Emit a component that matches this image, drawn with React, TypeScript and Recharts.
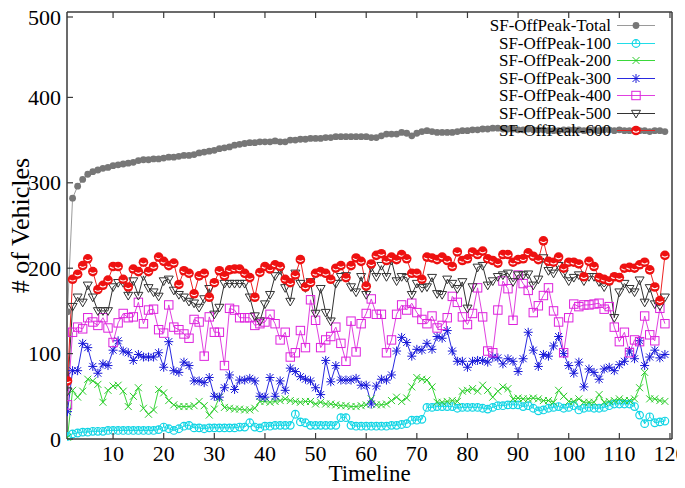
import React from "react";
import { LineChart, Line, XAxis, YAxis, Label } from "recharts";

const offPeakTotal = [
  149, 282, 296, 304, 310, 313, 315, 317, 318, 320,
  321, 322, 323, 324, 326, 327, 327, 328, 328, 329,
  330, 330, 331, 332, 332, 333, 335, 336, 337, 338,
  340, 341, 342, 344, 345, 346, 347, 347, 348, 348,
  348, 349, 348, 348, 350, 350, 351, 351, 352, 352,
  352, 353, 353, 354, 354, 354, 354, 354, 354, 354,
  353, 353, 355, 357, 357, 357, 359, 358, 355, 358,
  360, 361, 360, 359, 359, 359, 359, 360, 361, 361,
  362, 362, 363, 363, 364, 364, 363, 363, 363, 362,
  362, 363, 362, 362, 362, 361, 361, 361, 362, 362,
  362, 362, 361, 362, 362, 361, 362, 362, 361, 362,
  361, 361, 361, 361, 361, 360, 361, 361, 360,
];

const offPeak100 = [
  3, 6, 7, 8, 8, 9, 9, 9, 10, 10,
  10, 10, 10, 10, 10, 10, 10, 10, 11, 14,
  12, 10, 12, 15, 16, 13, 13, 12, 13, 13,
  13, 13, 13, 13, 14, 14, 19, 14, 13, 15,
  15, 16, 16, 16, 16, 29, 20, 19, 16, 16,
  16, 16, 16, 16, 25, 25, 16, 15, 15, 15,
  15, 15, 15, 15, 16, 16, 17, 18, 22, 22,
  23, 37, 37, 38, 38, 38, 38, 36, 37, 37,
  37, 37, 36, 35, 37, 39, 39, 40, 40, 40,
  38, 39, 36, 33, 34, 36, 37, 38, 36, 37,
  39, 34, 36, 37, 36, 36, 37, 39, 41, 41,
  41, 41, 38, 28, 18, 26, 19, 20, 21,
];

const offPeak200 = [
  2, 57, 49, 56, 70, 68, 64, 43, 57, 62,
  63, 56, 38, 50, 60, 36, 29, 34, 58, 54,
  45, 40, 38, 38, 38, 39, 44, 39, 28, 35,
  49, 37, 36, 35, 35, 34, 34, 36, 44, 44,
  43, 44, 45, 47, 45, 44, 43, 44, 44, 41,
  43, 41, 41, 40, 39, 39, 38, 38, 39, 40,
  47, 40, 40, 41, 45, 49, 44, 48, 61, 72,
  70, 69, 61, 43, 43, 44, 45, 44, 56, 57,
  59, 56, 63, 57, 49, 56, 61, 59, 47, 48,
  47, 47, 48, 47, 45, 45, 43, 57, 50, 44,
  44, 47, 43, 43, 43, 52, 43, 44, 45, 47,
  45, 45, 47, 60, 78, 47, 47, 45, 44,
];

const offPeak300 = [
  32, 80, 80, 112, 107, 85, 77, 88, 86, 104,
  115, 103, 101, 92, 99, 96, 96, 96, 101, 84,
  114, 80, 78, 90, 86, 68, 68, 66, 72, 50,
  49, 60, 75, 58, 69, 69, 71, 68, 50, 49,
  72, 50, 68, 57, 83, 79, 73, 70, 68, 60,
  52, 92, 67, 86, 69, 69, 69, 71, 63, 63,
  41, 62, 70, 69, 75, 103, 119, 113, 97, 105,
  104, 112, 105, 120, 118, 127, 103, 91, 91, 84,
  91, 92, 92, 90, 96, 95, 88, 94, 91, 79,
  94, 125, 104, 85, 99, 97, 109, 120, 100, 86,
  77, 90, 61, 82, 78, 70, 82, 84, 80, 87,
  91, 103, 94, 115, 86, 96, 104, 95, 99,
];

const offPeak400 = [
  40, 125, 131, 129, 142, 137, 133, 142, 130, 113,
  136, 147, 142, 143, 160, 135, 151, 152, 128, 124,
  157, 131, 128, 123, 118, 140, 137, 97, 143, 125,
  125, 86, 153, 151, 142, 142, 142, 133, 135, 137,
  146, 135, 116, 125, 96, 101, 127, 107, 163, 139,
  107, 116, 120, 131, 112, 91, 138, 102, 135, 147,
  164, 146, 146, 101, 116, 146, 157, 151, 159, 148,
  140, 135, 144, 130, 133, 142, 167, 160, 143, 134,
  147, 177, 143, 103, 101, 151, 185, 176, 139, 192,
  182, 174, 148, 156, 168, 177, 150, 137, 101, 142,
  158, 155, 157, 157, 158, 159, 152, 155, 131, 114,
  125, 101, 116, 114, 144, 122, 115, 153, 135,
];

const offPeak500 = [
  56, 155, 166, 160, 180, 166, 150, 150, 150, 178,
  183, 183, 168, 185, 168, 191, 177, 172, 167, 185,
  187, 174, 169, 166, 161, 159, 154, 164, 176, 146,
  154, 182, 182, 182, 182, 182, 166, 144, 138, 158,
  169, 191, 198, 177, 161, 194, 182, 177, 184, 147,
  176, 148, 138, 182, 190, 191, 178, 172, 190, 169,
  201, 190, 203, 190, 209, 185, 190, 189, 169, 182,
  177, 178, 189, 170, 169, 187, 182, 176, 184, 153,
  178, 201, 203, 180, 185, 190, 192, 194, 184, 192,
  192, 193, 180, 187, 212, 197, 194, 203, 194, 185,
  189, 192, 185, 190, 190, 184, 178, 185, 142, 172,
  182, 176, 172, 186, 160, 177, 158, 156, 166,
];

const offPeak600 = [
  68, 187, 193, 203, 211, 196, 175, 180, 186, 202,
  202, 187, 178, 199, 196, 207, 196, 202, 213, 208,
  203, 206, 181, 197, 194, 170, 191, 194, 166, 183,
  197, 191, 198, 199, 199, 194, 189, 166, 195, 202,
  199, 204, 202, 187, 183, 192, 210, 178, 183, 194,
  196, 194, 187, 200, 203, 189, 203, 212, 208, 179,
  205, 215, 217, 209, 213, 210, 216, 211, 194, 194,
  187, 213, 212, 210, 213, 209, 202, 219, 209, 211,
  219, 216, 220, 211, 209, 206, 216, 216, 207, 210,
  211, 218, 214, 210, 232, 208, 207, 213, 200, 207,
  207, 205, 190, 208, 202, 189, 187, 185, 190, 189,
  200, 201, 200, 204, 207, 198, 178, 162, 215,
];

const xTicks = [10, 20, 30, 40, 50, 60, 70, 80, 90, 100, 110, 120];
const yTicks = [0, 100, 200, 300, 400, 500];

const SERIF = "'Liberation Serif', 'Times New Roman', Times, serif";
const AXIS = "#3a3a3a";

type Shape = "dot" | "ring" | "cross" | "star" | "square" | "tri" | "ball";

const series: { key: string; name: string; color: string; marker: string; shape: Shape; values: number[] }[] = [
  { key: "total", name: "SF-OffPeak-Total", color: "#9a9a9a", marker: "#777777", shape: "dot", values: offPeakTotal },
  { key: "s100", name: "SF-OffPeak-100", color: "#20dde8", marker: "#12d5e5", shape: "ring", values: offPeak100 },
  { key: "s200", name: "SF-OffPeak-200", color: "#3ad83a", marker: "#2ccc2c", shape: "cross", values: offPeak200 },
  { key: "s300", name: "SF-OffPeak-300", color: "#2a2ae0", marker: "#1818d8", shape: "star", values: offPeak300 },
  { key: "s400", name: "SF-OffPeak-400", color: "#e040e0", marker: "#dd22dd", shape: "square", values: offPeak400 },
  { key: "s500", name: "SF-OffPeak-500", color: "#333333", marker: "#333333", shape: "tri", values: offPeak500 },
  { key: "s600", name: "SF-OffPeak-600", color: "#ee2222", marker: "#ee1111", shape: "ball", values: offPeak600 },
];

const timeline = offPeakTotal.map((_, i) => i + 1);

const data = timeline.map((t, i) => {
  const row: Record<string, number> = { t };
  series.forEach((s) => {
    row[s.key] = s.values[i];
  });
  return row;
});

const Marker = ({ shape, color, cx, cy }: { shape: Shape; color: string; cx: number; cy: number }) => {
  switch (shape) {
    case "dot":
      return <circle cx={cx} cy={cy} r={3.4} fill={color} />;
    case "ring":
      return (
        <g fill="none" stroke={color} strokeWidth={1.2}>
          <circle cx={cx} cy={cy} r={3.8} />
          <line x1={cx} y1={cy - 3.8} x2={cx} y2={cy} />
        </g>
      );
    case "cross":
      return (
        <g stroke={color} strokeWidth={1}>
          <line x1={cx - 3.5} y1={cy - 3.5} x2={cx + 3.5} y2={cy + 3.5} />
          <line x1={cx - 3.5} y1={cy + 3.5} x2={cx + 3.5} y2={cy - 3.5} />
        </g>
      );
    case "star":
      return (
        <g stroke={color} strokeWidth={1}>
          <line x1={cx - 3.5} y1={cy - 3.5} x2={cx + 3.5} y2={cy + 3.5} />
          <line x1={cx - 3.5} y1={cy + 3.5} x2={cx + 3.5} y2={cy - 3.5} />
          <line x1={cx - 4.5} y1={cy} x2={cx + 4.5} y2={cy} />
          <line x1={cx} y1={cy - 4.5} x2={cx} y2={cy + 4.5} />
        </g>
      );
    case "square":
      return <rect x={cx - 4.2} y={cy - 4.2} width={8.4} height={8.4} fill="none" stroke={color} strokeWidth={1} />;
    case "tri":
      return (
        <polygon
          points={`${cx - 4.5},${cy - 3.2} ${cx + 4.5},${cy - 3.2} ${cx},${cy + 4.5}`}
          fill="none"
          stroke={color}
          strokeWidth={1}
        />
      );
    case "ball":
      return (
        <g>
          <circle cx={cx} cy={cy} r={4.8} fill={color} />
          <path d={`M${cx - 3},${cy + 0.5} Q${cx},${cy + 3} ${cx + 3},${cy + 0.5}`} fill="none" stroke="#ffffff" strokeWidth={1.1} />
        </g>
      );
  }
  return null;
};

const makeDot = (shape: Shape, color: string, key: string) => (props: any) => (
  <Marker key={`${key}-${props.index}`} shape={shape} color={color} cx={props.cx} cy={props.cy} />
);

const textStyle = { fontFamily: SERIF };

const BottomTick = ({ x, y, payload }: any) => (
  <g>
    <line x1={x} y1={y} x2={x} y2={y - 6} stroke={AXIS} strokeWidth={1.2} />
    <text x={x} y={y + 22} textAnchor="middle" style={textStyle} fontSize={22} fill="#000">
      {payload.value}
    </text>
  </g>
);

const TopTick = ({ x, y }: any) => <line x1={x} y1={y} x2={x} y2={y + 6} stroke={AXIS} strokeWidth={1.2} />;

const LeftTick = ({ x, y, payload }: any) => (
  <g>
    <line x1={x} y1={y} x2={x + 6} y2={y} stroke={AXIS} strokeWidth={1.2} />
    <text x={x - 6} y={y + 7.5} textAnchor="end" style={textStyle} fontSize={22} fill="#000">
      {payload.value}
    </text>
  </g>
);

const RightTick = ({ x, y }: any) => <line x1={x} y1={y} x2={x - 6} y2={y} stroke={AXIS} strokeWidth={1.2} />;

const X_DOMAIN = [0.9, 120.4];

const ChartLegend = () => (
  <div style={{ position: "absolute", left: 380, top: 9, width: 268 }}>
    {series.map((s) => (
      <div
        key={s.key}
        style={{ display: "flex", justifyContent: "flex-end", alignItems: "center", height: 17.5 }}
      >
        <span style={{ fontFamily: SERIF, fontSize: 17, lineHeight: "17.5px", color: "#000" }}>{s.name}</span>
        <svg width={40} height={17} style={{ marginLeft: 5 }}>
          <line x1={1} y1={8.5} x2={39} y2={8.5} stroke={s.color} strokeWidth={1.2} />
          <Marker shape={s.shape} color={s.marker} cx={20} cy={8.5} />
        </svg>
      </div>
    ))}
  </div>
);

export default function App() {
  return (
    <div style={{ position: "relative", width: 677, height: 480 }}>
      <LineChart
        width={677}
        height={480}
        data={data}
        margin={{ top: 3, right: 12, bottom: 48, left: 58 }}
        style={{ overflow: "visible" }}
      >
        <XAxis
          dataKey="t"
          type="number"
          domain={X_DOMAIN}
          allowDataOverflow
          ticks={xTicks}
          height={1}
          tickSize={0}
          tickMargin={0}
          tick={BottomTick}
          tickLine={false}
          axisLine={{ stroke: AXIS, strokeWidth: 1.5 }}
        >
          <Label
            content={({ viewBox }: any) => (
              <text
                x={viewBox.x + viewBox.width / 2}
                y={viewBox.y + 42}
                textAnchor="middle"
                style={textStyle}
                fontSize={23}
                fill="#000"
              >
                Timeline
              </text>
            )}
          />
        </XAxis>
        <XAxis
          xAxisId="top"
          orientation="top"
          dataKey="t"
          type="number"
          domain={X_DOMAIN}
          allowDataOverflow
          ticks={xTicks}
          height={1}
          tickSize={0}
          tickMargin={0}
          tick={TopTick}
          tickLine={false}
          axisLine={{ stroke: AXIS, strokeWidth: 1.5 }}
        />
        <YAxis
          type="number"
          domain={[0, 500]}
          ticks={yTicks}
          width={1}
          tickSize={0}
          tickMargin={0}
          tick={LeftTick}
          tickLine={false}
          axisLine={{ stroke: AXIS, strokeWidth: 1.5 }}
        >
          <Label
            content={({ viewBox }: any) => {
              const cx = viewBox.x - 37;
              const cy = viewBox.y + viewBox.height / 2;
              return (
                <text
                  x={cx}
                  y={cy}
                  textAnchor="middle"
                  style={textStyle}
                  fontSize={26}
                  fill="#000"
                  transform={`rotate(-90, ${cx}, ${cy})`}
                >
                  # of Vehicles
                </text>
              );
            }}
          />
        </YAxis>
        <YAxis
          yAxisId="right"
          orientation="right"
          type="number"
          domain={[0, 500]}
          ticks={yTicks}
          width={1}
          tickSize={0}
          tickMargin={0}
          tick={RightTick}
          tickLine={false}
          axisLine={{ stroke: AXIS, strokeWidth: 1.5 }}
        />
        {series.map((s) => (
          <Line
            key={s.key}
            type="linear"
            dataKey={s.key}
            name={s.name}
            stroke={s.color}
            strokeWidth={1}
            dot={makeDot(s.shape, s.marker, s.key)}
            activeDot={false}
            isAnimationActive={false}
          />
        ))}
      </LineChart>
      <ChartLegend />
    </div>
  );
}
